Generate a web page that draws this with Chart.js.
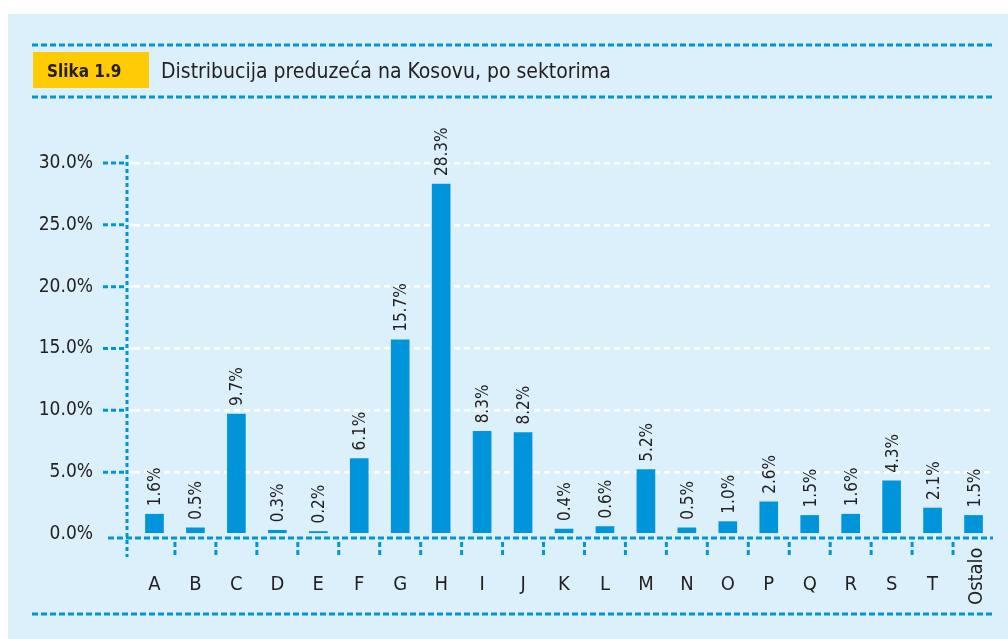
<!DOCTYPE html>
<html><head><meta charset="utf-8">
<script src="https://cdn.jsdelivr.net/npm/chart.js@4"></script>
<style>html,body{margin:0;padding:0;background:#fff;overflow:hidden}</style>
</head><body>
<canvas id="c" width="1008" height="639" style="display:block;width:1008px;height:639px"></canvas>
<script>
const categories = ['A','B','C','D','E','F','G','H','I','J','K','L','M','N','O','P','Q','R','S','T','Ostalo'];
const values = [1.6,0.5,9.7,0.3,0.2,6.1,15.7,28.3,8.3,8.2,0.4,0.6,5.2,0.5,1.0,2.6,1.5,1.6,4.3,2.1,1.5];
const valueLabels = ['1.6%','0.5%','9.7%','0.3%','0.2%','6.1%','15.7%','28.3%','8.3%','8.2%','0.4%','0.6%','5.2%','0.5%','1.0%','2.6%','1.5%','1.6%','4.3%','2.1%','1.5%'];
const yTicks = [0,5,10,15,20,25,30];
const yTickLabels = ['0.0%','5.0%','10.0%','15.0%','20.0%','25.0%','30.0%'];
const figureNumber = 'Slika 1.9';
const figureTitle = 'Distribucija preduzeća na Kosovu, po sektorima';

const BLUE = '#0095DA';
const BG = '#DCF0FB';
const TEXT = '#231F20';
const FONT = '"DejaVu Sans Condensed", "Liberation Sans", sans-serif';

function dashLine(ctx, x1, y1, x2, y2, color, w, dash) {
  ctx.save();
  ctx.strokeStyle = color; ctx.lineWidth = w; ctx.setLineDash(dash);
  ctx.beginPath(); ctx.moveTo(x1, y1); ctx.lineTo(x2, y2); ctx.stroke();
  ctx.restore();
}

const decor = {
  id: 'decor',
  beforeDraw(chart) {
    const ctx = chart.ctx;
    ctx.save();
    ctx.fillStyle = '#fff'; ctx.fillRect(0, 0, 1008, 639);
    ctx.fillStyle = BG; ctx.fillRect(8, 14, 1000, 625);
    dashLine(ctx, 32, 45, 993, 45, BLUE, 3, [6, 3]);
    dashLine(ctx, 32, 97, 993, 97, BLUE, 3, [6, 3]);
    dashLine(ctx, 32, 614, 993, 614, BLUE, 3, [6, 3]);
    ctx.fillStyle = '#FFCB05'; ctx.fillRect(33, 52, 116, 36);
    ctx.fillStyle = TEXT; ctx.textBaseline = 'alphabetic'; ctx.textAlign = 'left';
    ctx.font = 'bold 17px ' + FONT;
    ctx.fillText(figureNumber, 47, 77);
    ctx.font = '21px ' + FONT;
    ctx.fillText(figureTitle, 161, 78);
    ctx.restore();
  },
  afterDraw(chart) {
    const ctx = chart.ctx;
    const xs = chart.scales.x, ys = chart.scales.y;
    const area = chart.chartArea;
    const axisX = area.left - 7;
    const axisY = area.bottom + 4;
    ctx.save();
    yTicks.forEach(v => {
      if (v === 0) return;
      const y = ys.getPixelForValue(v);
      dashLine(ctx, 103, y, axisX, y, BLUE, 3, [5, 3]);
      dashLine(ctx, axisX + 2, y, area.left, y, '#fff', 2.5, [6, 4]);
    });
    dashLine(ctx, 108, axisY, 993, axisY, BLUE, 3, [6, 3]);
    dashLine(ctx, axisX, 155, axisX, 557, BLUE, 3, [4, 3]);
    for (let i = 0; i < categories.length - 1; i++) {
      const x = (xs.getPixelForValue(i) + xs.getPixelForValue(i + 1)) / 2;
      dashLine(ctx, x, axisY + 4, x, 557, BLUE, 3, [5, 3]);
    }
    ctx.fillStyle = TEXT;
    ctx.font = '20px ' + FONT;
    categories.forEach((c, i) => {
      const x = xs.getPixelForValue(i);
      if (c.length > 2) {
        ctx.save();
        ctx.translate(x + 8, 605);
        ctx.rotate(-Math.PI / 2);
        ctx.textAlign = 'left'; ctx.textBaseline = 'alphabetic';
        ctx.fillText(c, 0, 0);
        ctx.restore();
      } else {
        ctx.textAlign = 'center'; ctx.textBaseline = 'alphabetic';
        ctx.fillText(c, x, 590);
      }
    });
    ctx.font = '17px ' + FONT;
    const meta = chart.getDatasetMeta(0);
    meta.data.forEach((bar, i) => {
      ctx.save();
      ctx.translate(bar.x + 6, bar.y - 8);
      ctx.rotate(-Math.PI / 2);
      ctx.textAlign = 'left'; ctx.textBaseline = 'alphabetic';
      ctx.fillText(valueLabels[i], 0, 0);
      ctx.restore();
    });
    ctx.restore();
  }
};

new Chart(document.getElementById('c'), {
  type: 'bar',
  data: {
    labels: categories,
    datasets: [{ data: values, backgroundColor: BLUE, barThickness: 18, borderWidth: 0 }]
  },
  options: {
    responsive: false,
    animation: false,
    devicePixelRatio: 1,
    layout: { padding: { top: 163, right: 14, bottom: 105, left: 0 } },
    plugins: { legend: { display: false }, tooltip: { enabled: false }, title: { display: false } },
    scales: {
      x: { type: 'category', display: false, offset: true },
      y: {
        min: 0, max: 30,
        afterFit(s) { s.width = 134; },
        afterBuildTicks(s) { s.ticks = yTicks.map(v => ({ value: v })); },
        ticks: {
          padding: 41,
          color: TEXT,
          font: { family: FONT, size: 19 },
          callback: (v) => yTickLabels[yTicks.indexOf(v)]
        },
        grid: {
          drawTicks: false,
          color: (c) => (c.tick && c.tick.value === 0) ? 'rgba(0,0,0,0)' : '#ffffff',
          lineWidth: 2.5
        },
        border: { display: false, dash: [6, 4] }
      }
    }
  },
  plugins: [decor]
});
</script>
</body></html>
